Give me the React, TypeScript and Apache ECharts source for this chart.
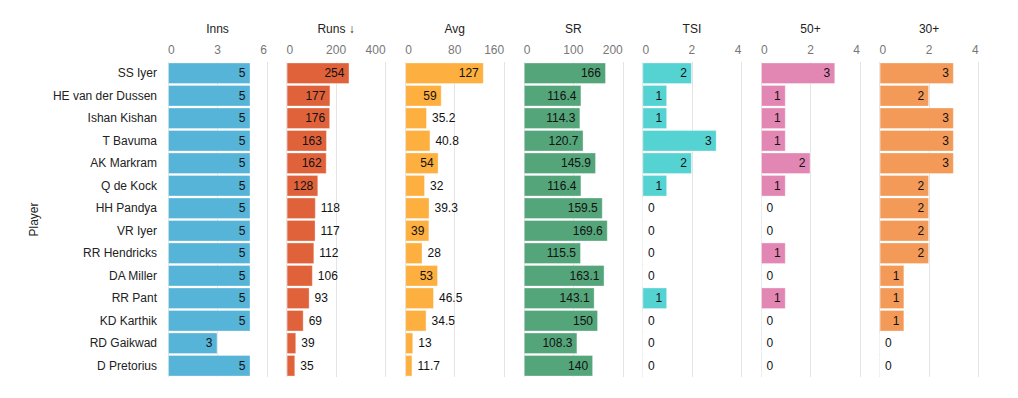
import React, { useEffect, useRef } from "react";
import * as echarts from "echarts";

const players = ["SS Iyer", "HE van der Dussen", "Ishan Kishan", "T Bavuma", "AK Markram", "Q de Kock", "HH Pandya", "VR Iyer", "RR Hendricks", "DA Miller", "RR Pant", "KD Karthik", "RD Gaikwad", "D Pretorius"];
const inns = [5, 5, 5, 5, 5, 5, 5, 5, 5, 5, 5, 5, 3, 5];
const runs = [254, 177, 176, 163, 162, 128, 118, 117, 112, 106, 93, 69, 39, 35];
const avg = [127, 59, 35.2, 40.8, 54, 32, 39.3, 39, 28, 53, 46.5, 34.5, 13, 11.7];
const sr = [166, 116.4, 114.3, 120.7, 145.9, 116.4, 159.5, 169.6, 115.5, 163.1, 143.1, 150, 108.3, 140];
const tsi = [2, 1, 1, 3, 2, 1, 0, 0, 0, 0, 1, 0, 0, 0];
const fifties = [3, 1, 1, 1, 2, 1, 0, 0, 1, 0, 1, 0, 0, 0];
const thirties = [3, 2, 3, 3, 3, 2, 2, 2, 2, 1, 1, 1, 0, 0];

const panelTitles = ["Inns", "Runs \u2193", "Avg", "SR", "TSI", "50+", "30+"];
const panelMax = [6, 400, 160, 200, 4, 4, 4];
const panelData = [inns, runs, avg, sr, tsi, fifties, thirties];
const panelColors = ["#55b4d8", "#e0623a", "#fdb03f", "#54a57a", "#55d2d2", "#e286b3", "#f39a58"];

const GRID_LEFT = 168;
const GRID_STEP = 118.6;
const GRID_W = 99;
const GRID_TOP = 62;
const GRID_H = 315;

function textWidth(s: string) {
  let w = 0;
  for (const c of s) w += c === "." ? 3.3 : 6.7;
  return w;
}

export default function App() {
  const ref = useRef<HTMLDivElement>(null);
  useEffect(() => {
    if (!ref.current) return;
    const chart = echarts.init(ref.current, undefined, { renderer: "svg" });
    const grids: any[] = [];
    const xAxes: any[] = [];
    const yAxes: any[] = [];
    const series: any[] = [];
    panelData.forEach((vals, i) => {
      grids.push({ left: GRID_LEFT + i * GRID_STEP, top: GRID_TOP, width: GRID_W, height: GRID_H });
      xAxes.push({
        type: "value",
        gridIndex: i,
        position: "top",
        min: 0,
        max: panelMax[i],
        interval: panelMax[i] / 2,
        name: panelTitles[i],
        nameLocation: "middle",
        nameGap: 27,
        nameTextStyle: { color: "#222", fontSize: 12, fontFamily: "Liberation Sans, Arial" },
        axisLine: { show: false },
        axisTick: { show: false },
        axisLabel: {
          color: "#777",
          fontSize: 12,
          fontFamily: "Liberation Sans, Arial",
          margin: 6,
          alignMinLabel: "left",
          alignMaxLabel: "right",
        },
        splitLine: { show: true, lineStyle: { color: "#e4e4e4", width: 1 } },
      });
      yAxes.push({
        type: "category",
        gridIndex: i,
        data: players,
        inverse: true,
        axisLine: { show: false },
        axisTick: { show: false },
        axisLabel: {
          show: i === 0,
          color: "#222",
          fontSize: 12,
          fontFamily: "Liberation Sans, Arial",
          margin: 11,
        },
        name: i === 0 ? "Player" : "",
        nameLocation: "middle",
        nameGap: 128,
        nameRotate: 90,
        nameTextStyle: { color: "#222", fontSize: 12, fontFamily: "Liberation Sans, Arial" },
        splitLine: { show: false },
      });
      series.push({
        type: "bar",
        xAxisIndex: i,
        yAxisIndex: i,
        barCategoryGap: "4%",
        itemStyle: { color: panelColors[i], borderColor: "rgba(255,255,255,0.35)", borderWidth: 1 },
        data: vals.map((v) => {
          const px = (v / panelMax[i]) * GRID_W;
          const inside = px >= textWidth(String(v)) + 10;
          return {
            value: v,
            label: {
              show: true,
              position: inside ? "insideRight" : "right",
              distance: 5,
              color: "#111",
              fontSize: 12,
              fontFamily: "Liberation Sans, Arial",
              formatter: String(v),
            },
          };
        }),
      });
    });
    chart.setOption({
      animation: false,
      backgroundColor: "#fff",
      grid: grids,
      xAxis: xAxes,
      yAxis: yAxes,
      series,
    });
    return () => chart.dispose();
  }, []);
  return <div ref={ref} style={{ position: "absolute", left: 0, top: 0, width: 1018, height: 398 }} />;
}
